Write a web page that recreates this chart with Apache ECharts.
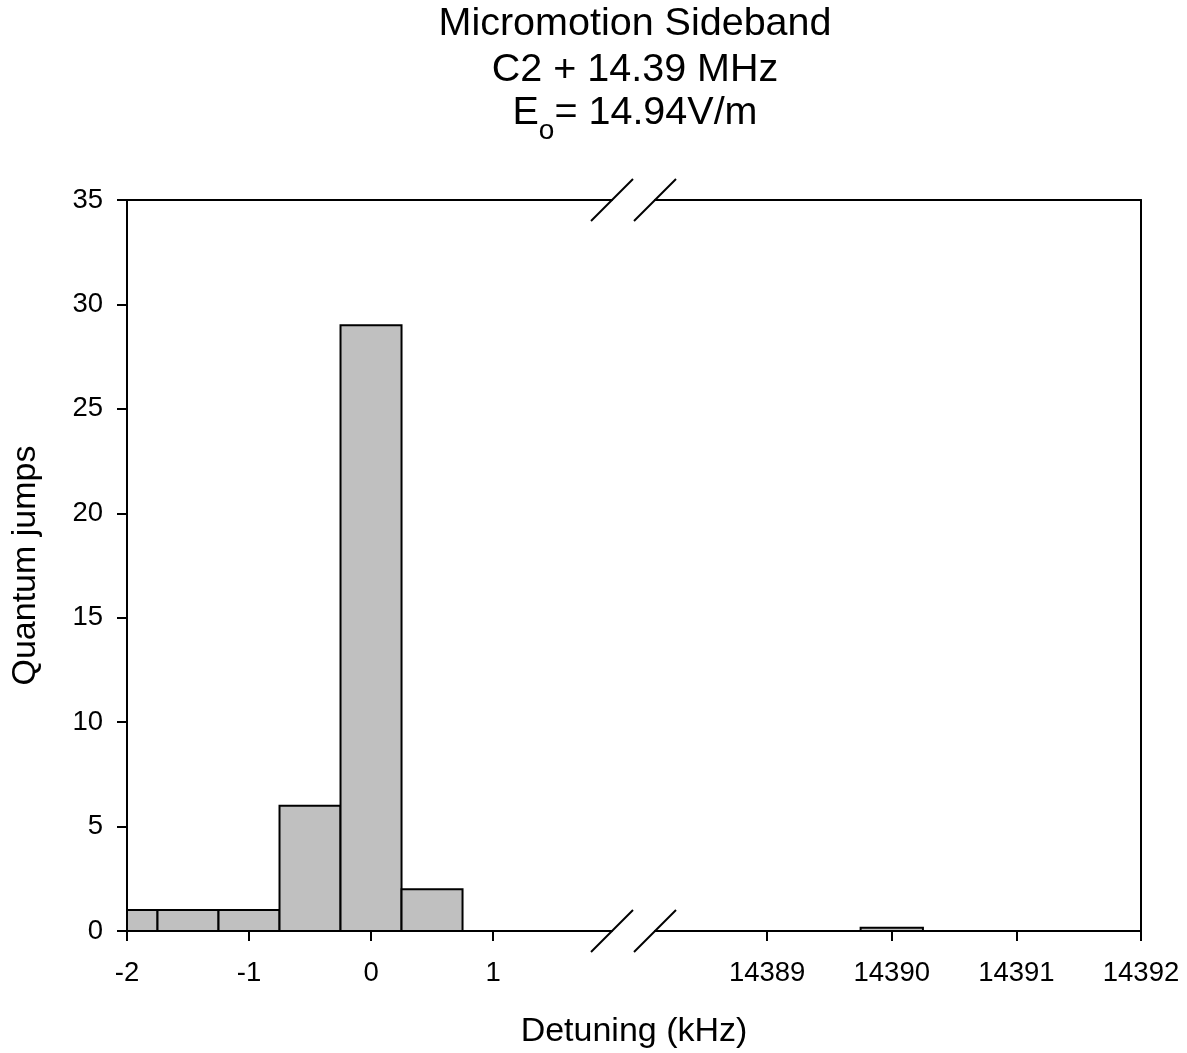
<!DOCTYPE html>
<html>
<head>
<meta charset="utf-8">
<script src="https://cdn.jsdelivr.net/npm/echarts@6/dist/echarts.min.js"></script>
<style>
html,body{margin:0;padding:0;background:#fff;}
#main{width:1187px;height:1053px;}
</style>
</head>
<body>
<div id="main"></div>
<script>
// ---- data ----
const titleLines = ['Micromotion Sideband', 'C2 + 14.39 MHz'];
const fieldLabel = ['E', 'o', '= 14.94V/m'];
const xAxisTitle = 'Detuning (kHz)';
const yAxisTitle = 'Quantum jumps';
const binWidth = 0.5;
const leftBinCenters = [-2, -1.5, -1, -0.5, 0, 0.5];
const leftCounts = [1, 1, 1, 6, 29, 2];
const rightBinCenters = [14390];
const rightCounts = [0.15];
const leftTicks = [-2, -1, 0, 1];
const rightTicks = [14389, 14390, 14391, 14392];
const leftRange = [-2, 1.975];
const rightRange = [14388.1, 14392];
const yRange = [0, 35];
const yStep = 5;

const FONT = '"Liberation Sans", Arial, sans-serif';
const chart = echarts.init(document.getElementById('main'), null, {renderer: 'canvas'});

function histItem(params, api) {
  const c = api.value(0), v = api.value(1);
  const p0 = api.coord([c - binWidth / 2, v]);
  const p1 = api.coord([c + binWidth / 2, 0]);
  const cs = params.coordSys;
  const shape = echarts.graphic.clipRectByRect(
    {x: p0[0], y: p0[1], width: p1[0] - p0[0], height: p1[1] - p0[1]},
    {x: cs.x, y: cs.y, width: cs.width, height: cs.height}
  );
  if (!shape) return null;
  return {type: 'rect', shape: shape, style: {fill: '#c0c0c0', stroke: '#000', lineWidth: 2}};
}

const lineStyle = {color: '#000', width: 2};
const tickLabel = {color: '#000', fontSize: 27.5, fontFamily: FONT, formatter: v => String(v)};

const option = {
  backgroundColor: '#fff',
  animation: false,
  title: {
    left: 630, top: -4, textAlign: 'center',
    text: '{t|' + titleLines[0] + '}\n{t|' + titleLines[1] + '}\n{u|' + fieldLabel[0] + '}{s|' + fieldLabel[1] + '}{u|' + fieldLabel[2] + '}',
    textStyle: {
      fontWeight: 'normal',
      rich: {
        t: {fontSize: 39.5, lineHeight: 46, fontFamily: FONT, color: '#000', fontWeight: 'normal'},
        u: {fontSize: 39.5, lineHeight: 46, fontFamily: FONT, color: '#000', fontWeight: 'normal', verticalAlign: 'top'},
        s: {fontSize: 28, lineHeight: 52, fontFamily: FONT, color: '#000', fontWeight: 'normal', verticalAlign: 'bottom'}
      }
    }
  },
  grid: [
    {left: 127, top: 200, width: 485, height: 731},
    {left: 655, top: 200, width: 486, height: 731}
  ],
  xAxis: [
    {type: 'value', gridIndex: 0, position: 'bottom', min: leftRange[0], max: leftRange[1],
     axisLine: {show: true, onZero: false, lineStyle: lineStyle},
     axisTick: {show: true, length: 10, lineStyle: lineStyle, customValues: leftTicks},
     axisLabel: {show: true, margin: 28, ...tickLabel, customValues: leftTicks},
     splitLine: {show: false}},
    {type: 'value', gridIndex: 1, position: 'bottom', min: rightRange[0], max: rightRange[1],
     axisLine: {show: true, onZero: false, lineStyle: lineStyle},
     axisTick: {show: true, length: 10, lineStyle: lineStyle, customValues: rightTicks},
     axisLabel: {show: true, margin: 28, ...tickLabel, customValues: rightTicks},
     splitLine: {show: false}},
    {type: 'value', gridIndex: 0, position: 'top', min: leftRange[0], max: leftRange[1],
     axisLine: {show: true, onZero: false, lineStyle: lineStyle},
     axisTick: {show: false}, axisLabel: {show: false}, splitLine: {show: false}},
    {type: 'value', gridIndex: 1, position: 'top', min: rightRange[0], max: rightRange[1],
     axisLine: {show: true, onZero: false, lineStyle: lineStyle},
     axisTick: {show: false}, axisLabel: {show: false}, splitLine: {show: false}}
  ],
  yAxis: [
    {type: 'value', gridIndex: 0, position: 'left', min: yRange[0], max: yRange[1], interval: yStep,
     axisLine: {show: true, onZero: false, lineStyle: lineStyle},
     axisTick: {show: true, length: 10, lineStyle: lineStyle},
     axisLabel: {show: true, margin: 24, ...tickLabel},
     splitLine: {show: false},
     name: yAxisTitle, nameLocation: 'middle', nameGap: 84,
     nameTextStyle: {color: '#000', fontSize: 34, fontFamily: FONT}},
    {type: 'value', gridIndex: 1, position: 'right', min: yRange[0], max: yRange[1], interval: yStep,
     axisLine: {show: true, onZero: false, lineStyle: lineStyle},
     axisTick: {show: false}, axisLabel: {show: false}, splitLine: {show: false}}
  ],
  series: [
    {type: 'custom', xAxisIndex: 0, yAxisIndex: 0, renderItem: histItem,
     data: leftBinCenters.map((c, i) => [c, leftCounts[i]])},
    {type: 'custom', xAxisIndex: 1, yAxisIndex: 1, renderItem: histItem,
     data: rightBinCenters.map((c, i) => [c, rightCounts[i]])}
  ]
};
chart.setOption(option);

// axis-break slashes placed where the two axis segments end
const xL = chart.convertToPixel({xAxisIndex: 0}, leftRange[1]);
const xR = chart.convertToPixel({xAxisIndex: 1}, rightRange[0]);
const x0 = chart.convertToPixel({xAxisIndex: 0}, leftRange[0]);
const x1 = chart.convertToPixel({xAxisIndex: 1}, rightRange[1]);
const yT = chart.convertToPixel({yAxisIndex: 0}, yRange[1]);
const yB = chart.convertToPixel({yAxisIndex: 0}, yRange[0]);
const d = 21;
const gfx = [];
[[xL, yT], [xR, yT], [xL, yB], [xR, yB]].forEach(([cx, cy]) => {
  gfx.push({type: 'line', shape: {x1: cx - d, y1: cy + d, x2: cx + d, y2: cy - d},
    style: {stroke: '#000', lineWidth: 2}, z: 10});
});
// shared x-axis title centred under both segments
gfx.push({type: 'text', x: (x0 + x1) / 2, y: yB + 101,
  style: {text: xAxisTitle, fontSize: 34, fontFamily: FONT, fill: '#000', align: 'center', verticalAlign: 'middle'}});
chart.setOption({graphic: gfx});
</script>
</body>
</html>
